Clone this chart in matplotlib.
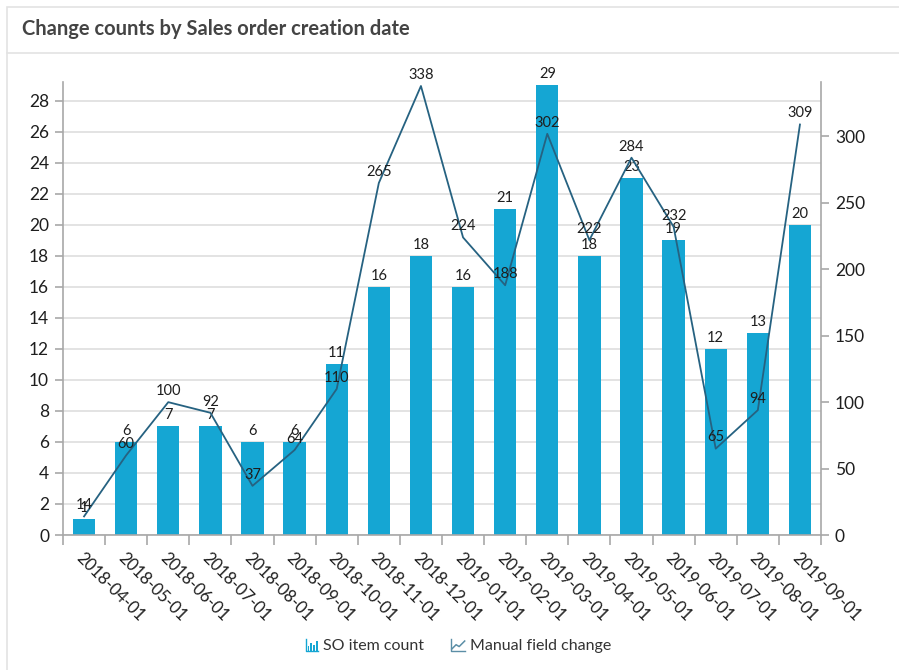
import matplotlib
matplotlib.use("Agg")
import matplotlib.pyplot as plt
from matplotlib.lines import Line2D
from matplotlib.patches import Rectangle
from matplotlib.legend_handler import HandlerBase

plt.rcParams['font.family'] = ['Lato', 'DejaVu Sans']

dates = ["2018-04-01", "2018-05-01", "2018-06-01", "2018-07-01", "2018-08-01",
         "2018-09-01", "2018-10-01", "2018-11-01", "2018-12-01", "2019-01-01",
         "2019-02-01", "2019-03-01", "2019-04-01", "2019-05-01", "2019-06-01",
         "2019-07-01", "2019-08-01", "2019-09-01"]
so_item_count = [1, 6, 7, 7, 6, 6, 11, 16, 18, 16, 21, 29, 18, 23, 19, 12, 13, 20]
manual_field_change = [14, 60, 100, 92, 37, 64, 110, 265, 338, 224, 188, 302,
                       222, 284, 232, 65, 94, 309]
left_ticks = list(range(0, 29, 2))
right_ticks = list(range(0, 301, 50))

BAR_COLOR = '#15a6d3'
LINE_COLOR = '#266281'
TEXT = '#1e1e1e'
SPINE = '#a8a8a8'

W, H = 899, 670
fig = plt.figure(figsize=(W / 100, H / 100), dpi=100)

# panel frame and header separator
fig.add_artist(Rectangle((7 / W, -0.01), 1.0, 1 - 7 / H + 0.01, transform=fig.transFigure,
                         fill=False, edgecolor='#e3e3e3', linewidth=1.2))
fig.add_artist(Line2D([7 / W, 1.0], [1 - 53 / H] * 2, transform=fig.transFigure,
                      color='#e3e3e3', linewidth=1.2))
fig.text(22 / W, 1 - 29 / H, "Change counts by Sales order creation date",
         fontsize=14.5, fontweight='bold', color='#444444', va='center', ha='left')

x0, x1 = 63, 821
y0, y1 = 82, 535
ax = fig.add_axes([x0 / W, 1 - y1 / H, (x1 - x0) / W, (y1 - y0) / H])
ax2 = ax.twinx()

n = len(dates)
xs = list(range(n))

ax.set_axisbelow(True)
ax.yaxis.grid(True, color='#dedede', linewidth=1.2)
ax.bar(xs, so_item_count, width=0.53, color=BAR_COLOR, zorder=2)
ax.set_xlim(-0.5, n - 1 + 0.5)
ax.set_ylim(0, 29.2)
ax.set_yticks(left_ticks)
ax.set_yticklabels([str(t) for t in left_ticks])

ax.set_xticks(xs)
ax.set_xticklabels(dates, rotation=-45, ha='left', va='top', rotation_mode='anchor',
                   fontsize=12, color=TEXT)
ax.set_xticks([i + 0.5 for i in range(-1, n)], minor=True)
ax.tick_params(axis='x', which='major', length=0, pad=11)
ax.tick_params(axis='x', which='minor', length=7, color=SPINE, width=1.2)
ax.tick_params(axis='y', length=6, color=SPINE, width=1.2, labelsize=12.5,
               labelcolor=TEXT, pad=4)

for sp in ['top', 'right']:
    ax.spines[sp].set_visible(False)
for sp in ['left', 'bottom']:
    ax.spines[sp].set_color(SPINE)
    ax.spines[sp].set_linewidth(1.2)

for x, v in zip(xs, so_item_count):
    ax.annotate(str(v), (x, v), xytext=(0, 3), textcoords='offset points',
                ha='center', va='bottom', fontsize=10.5, color=TEXT, zorder=5)

ax2.plot(xs, manual_field_change, color=LINE_COLOR, linewidth=1.3, zorder=3)
ax2.set_ylim(0, 341)
ax2.set_yticks(right_ticks)
ax2.set_yticklabels([str(t) for t in right_ticks])
ax2.tick_params(axis='y', length=6, color=SPINE, width=1.2, labelsize=12.5,
                labelcolor=TEXT, pad=4)
for sp in ['top', 'left', 'bottom']:
    ax2.spines[sp].set_visible(False)
ax2.spines['right'].set_color(SPINE)
ax2.spines['right'].set_linewidth(1.2)

for x, v in zip(xs, manual_field_change):
    ax2.annotate(str(v), (x, v), xytext=(0, 3), textcoords='offset points',
                 ha='center', va='bottom', fontsize=10.5, color=TEXT, zorder=6)


class BarIconHandler(HandlerBase):
    def create_artists(self, legend, orig_handle, xdescent, ydescent, width, height,
                       fontsize, trans):
        arts = []
        s = height * 1.1
        ox = xdescent + width - s
        oy = -ydescent - 1
        arts.append(Line2D([ox, ox, ox + s], [oy + s, oy, oy], color=BAR_COLOR,
                           linewidth=1.0, transform=trans))
        hs = [0.45, 0.7, 0.55, 0.85]
        bw = s / 6.5
        for i, h in enumerate(hs):
            arts.append(Rectangle((ox + bw * (0.8 + 1.45 * i), oy), bw, s * h,
                                  facecolor=BAR_COLOR, edgecolor='none', transform=trans))
        return arts


class LineIconHandler(HandlerBase):
    def create_artists(self, legend, orig_handle, xdescent, ydescent, width, height,
                       fontsize, trans):
        s = height * 1.1
        ox = xdescent + width - s - 2
        oy = -ydescent - 1
        c = '#5b8ea6'
        axis = Line2D([ox, ox, ox + s * 1.2], [oy + s, oy, oy], color=c, linewidth=1.0,
                      transform=trans)
        ln = Line2D([ox + s * 0.1, ox + s * 0.45, ox + s * 0.7, ox + s * 1.15],
                    [oy + s * 0.2, oy + s * 0.55, oy + s * 0.4, oy + s * 0.85],
                    color=c, linewidth=1.1, transform=trans)
        return [axis, ln]


h_bar = Rectangle((0, 0), 1, 1)
h_line = Line2D([], [])
fig.legend([h_bar, h_line], ["SO item count", "Manual field change"],
           handler_map={Rectangle: BarIconHandler(), Line2D: LineIconHandler()},
           loc='center', bbox_to_anchor=(457 / W, 1 - 646 / H), ncol=2, frameon=False,
           fontsize=11.5, handlelength=1.0, handletextpad=0.3, columnspacing=1.6,
           labelcolor='#333333')

fig.savefig("out.png", dpi=100)
